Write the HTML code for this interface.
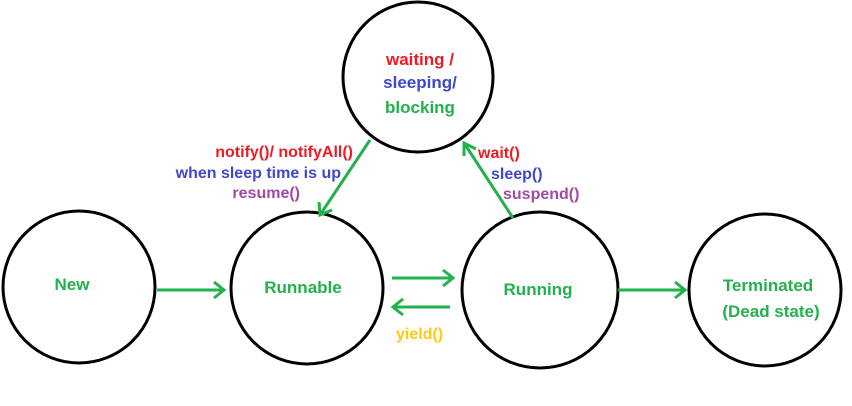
<!DOCTYPE html>
<html><head><style>body{margin:0;background:#fff}</style></head><body>
<svg width="852" height="401" xmlns="http://www.w3.org/2000/svg" font-family="Liberation Sans, sans-serif" font-weight="bold" font-size="16">
<rect width="852" height="401" fill="#fff"/>
<g fill="none" stroke="#000" stroke-width="3">
<circle cx="418" cy="77" r="75"/>
<circle cx="79" cy="287" r="76"/>
<circle cx="307" cy="288" r="76"/>
<circle cx="540" cy="290" r="78"/>
<circle cx="765" cy="290" r="76"/>
</g>
<g stroke="#22b14c" stroke-width="3" fill="none">
<line x1="157" y1="290" x2="224" y2="290"/><polyline points="214,282 224,290 214,298"/>
<line x1="392" y1="278" x2="453" y2="278"/><polyline points="443,270 453,278 443,286"/>
<line x1="450" y1="307" x2="393" y2="307"/><polyline points="403,299 393,307 403,315"/>
<line x1="618" y1="290" x2="685" y2="290"/><polyline points="675,282 685,290 675,298"/>
<line x1="370" y1="140" x2="320" y2="215"/><polyline points="319,202 320,215 332,210"/>
<line x1="513" y1="218" x2="464" y2="143"/><polyline points="464,156 464,143 476,149"/>
</g>
<g text-anchor="middle" font-size="17">
<text x="420" y="65" fill="#ed1c24">waiting /</text>
<text x="420" y="88" fill="#3f48cc">sleeping/</text>
<text x="420" y="113" fill="#22b14c">blocking</text>
<text x="72" y="290" fill="#22b14c">New</text>
<text x="303" y="293" fill="#22b14c">Runnable</text>
<text x="538" y="295" fill="#22b14c">Running</text>
<text x="768" y="291" fill="#22b14c">Terminated</text>
<text x="771" y="317" fill="#22b14c">(Dead state)</text>
</g>
<g text-anchor="end">
<text x="353" y="157" fill="#ed1c24">notify()/ notifyAll()</text>
<text x="341" y="178" fill="#3f48cc">when sleep time is up</text>
<text x="300" y="198" fill="#a349a4">resume()</text>
</g>
<text x="478" y="158" fill="#ed1c24">wait()</text>
<text x="491" y="179" fill="#3f48cc">sleep()</text>
<text x="503" y="199" fill="#a349a4">suspend()</text>
<text x="396" y="339" fill="#ffc90e">yield()</text>
</svg>
</body></html>
